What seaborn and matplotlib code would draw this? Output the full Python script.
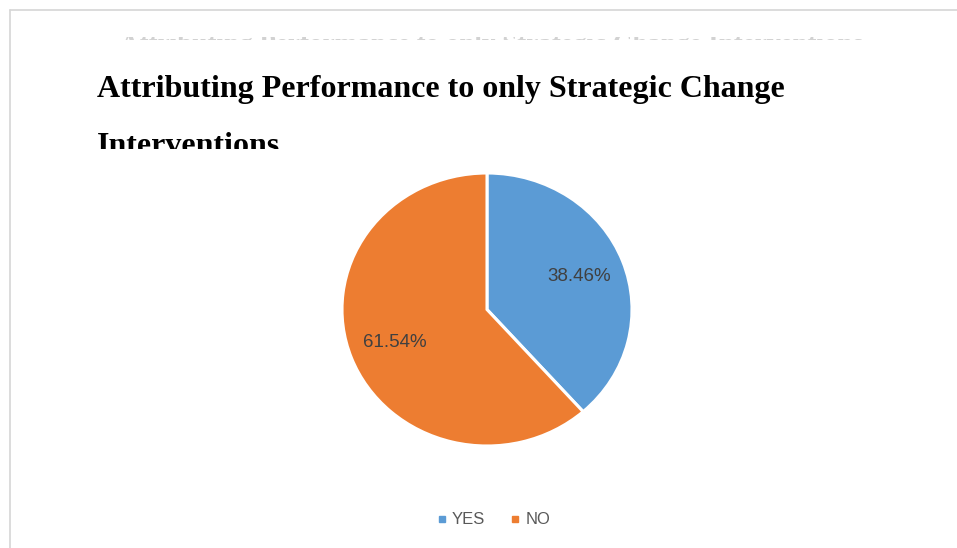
import matplotlib
matplotlib.use("Agg")
import matplotlib.pyplot as plt
from matplotlib.lines import Line2D
from matplotlib.patches import Rectangle
import seaborn as sns

# Survey answers and their shares (percent)
categories = ["YES", "NO"]
shares = [38.46, 61.54]
slice_colors = ["#5B9BD5", "#ED7D31"]
title_lines = ["Attributing Performance to only Strategic Change", "Interventions"]

sns.set_theme(style="white")
plt.rcParams["font.family"] = ["Liberation Sans", "DejaVu Sans"]

W, H = 957, 548
fig = plt.figure(figsize=(W / 100, H / 100), dpi=100)
fig.patch.set_facecolor("white")

def fx(px):
    return px / W

def fy(py):
    return 1 - py / H

def cover(x0, y0, x1, y1, z):
    # white panel given in pixel corners (top-left, bottom-right)
    fig.add_artist(Rectangle((fx(x0), fy(y1)), fx(x1) - fx(x0), fy(y0) - fy(y1),
                             facecolor="white", edgecolor="none", zorder=z))

# Thin sliver of the heading repeated above, mostly hidden by the frame
fig.text(fx(120), fy(52), title_lines[0] + " " + title_lines[1],
         family="Liberation Serif", fontweight="bold", fontsize=19.5,
         color="#d2d2d2", ha="left", va="baseline", zorder=1)
cover(12, 12, 957, 37, 1.5)
cover(12, 39.5, 957, 60, 1.5)

# Chart frame border (left and top edges)
fig.add_artist(Line2D([fx(10), fx(10)], [fy(10), 0], color="#d6d6d6", lw=1.2, zorder=2))
fig.add_artist(Line2D([fx(10), 1], [fy(10), fy(10)], color="#d6d6d6", lw=1.2, zorder=2))

# Title in bold serif; second line runs under the plot area
fig.text(fx(97), fy(97), title_lines[0], family="Liberation Serif",
         fontweight="bold", fontsize=23, color="black", ha="left", va="baseline",
         zorder=2)
fig.text(fx(97), fy(154), title_lines[1], family="Liberation Serif",
         fontweight="bold", fontsize=23, color="black", ha="left", va="baseline",
         zorder=2)
cover(60, 149, 957, 560, 3.5)

# Pie plot area
ax = fig.add_axes([fx(342), fy(446), fx(632) - fx(342), fy(173) - fy(446)], zorder=4)
wedges, texts, autotexts = ax.pie(
    shares,
    colors=slice_colors,
    startangle=90,
    counterclock=False,
    autopct="%.2f%%",
    pctdistance=0.68,
    wedgeprops=dict(edgecolor="white", linewidth=2.2),
    textprops=dict(color="#404040", fontsize=13.5),
)
ax.set_aspect("auto")
ax.set_xlim(-1.0, 1.0)
ax.set_ylim(-1.0, 1.0)
ax.axis("off")

# Legend below the pie
handles = [Line2D([0], [0], marker="s", linestyle="none", markersize=5,
                  markerfacecolor=c, markeredgecolor=c) for c in slice_colors]
leg = fig.legend(handles, categories, loc="center", bbox_to_anchor=(fx(492), fy(520)),
                 ncol=2, frameon=False, fontsize=12, handletextpad=0.1,
                 columnspacing=1.3, handlelength=1.0)
leg.set_zorder(5)
for t in leg.get_texts():
    t.set_color("#595959")

fig.savefig("out.png", dpi=100, facecolor="white")
